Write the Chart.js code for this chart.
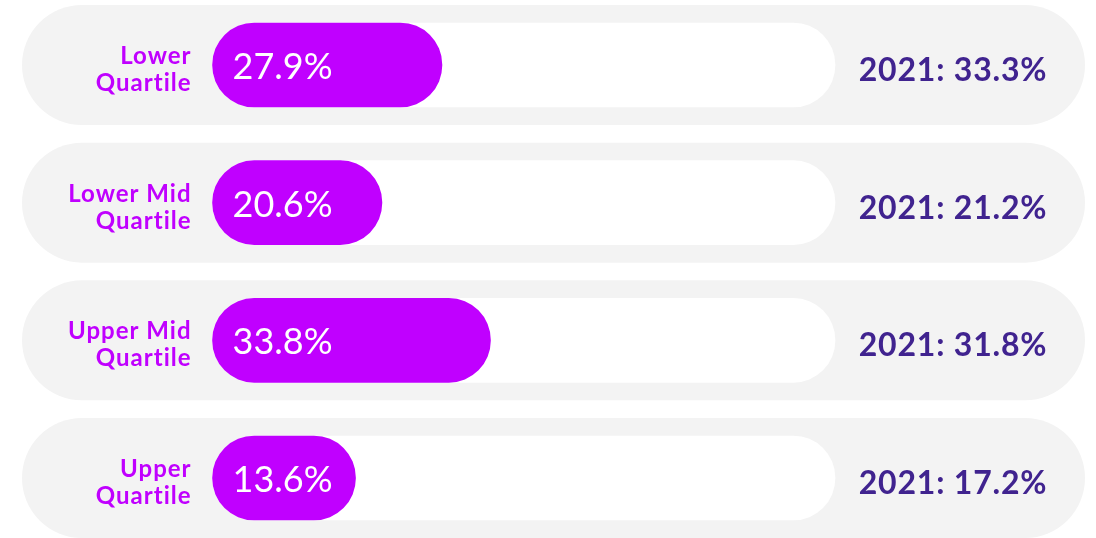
<!DOCTYPE html>
<html>
<head>
<meta charset="utf-8">
<script src="https://cdn.jsdelivr.net/npm/chart.js@4.4.1/dist/chart.umd.min.js"></script>
<style>
    html, body { margin: 0; padding: 0; background: #ffffff; }
    #wrap { width: 1096px; height: 538px; }
</style>
</head>
<body>
<div id="wrap"><canvas id="quartileChart"></canvas></div>
<script>
// Pay quartile data
const quartiles = [['Lower', 'Quartile'], ['Lower Mid', 'Quartile'], ['Upper Mid', 'Quartile'], ['Upper', 'Quartile']];
const values2022 = [27.9, 20.6, 33.8, 13.6];
const values2021 = [33.3, 21.2, 31.8, 17.2];
const trackMax = [75.7, 75.7, 75.7, 75.7];

const PURPLE = '#c000ff';
const DARK = '#40238f';
const FONT = 'Lato, "Open Sans", sans-serif';

// Grey pills behind each row, plus all the text
const pillPlugin = {
    id: 'pills',
    beforeDatasetsDraw(chart) {
        const { ctx, chartArea, scales: { y } } = chart;
        ctx.save();
        ctx.fillStyle = '#f3f3f3';
        quartiles.forEach((q, i) => {
            const cy = y.getPixelForValue(i);
            ctx.beginPath();
            ctx.roundRect(chartArea.left, cy - 60, chartArea.right - chartArea.left, 120, 60);
            ctx.fill();
        });
        ctx.restore();
    },
    afterDatasetsDraw(chart) {
        const { ctx, chartArea, scales: { x, y } } = chart;
        const x0 = x.getPixelForValue(0);
        ctx.save();
        quartiles.forEach((q, i) => {
            const cy = y.getPixelForValue(i);
            // left label
            ctx.fillStyle = PURPLE;
            ctx.font = 'bold 24px ' + FONT;
            ctx.letterSpacing = '1px';
            ctx.textAlign = 'right';
            ctx.textBaseline = 'alphabetic';
            ctx.fillText(q[0], x0 - 21, cy - 1);
            ctx.fillText(q[1], x0 - 21, cy + 26);
            // value inside bar
            ctx.fillStyle = '#ffffff';
            ctx.font = '36px ' + FONT;
            ctx.letterSpacing = '0px';
            ctx.textAlign = 'left';
            ctx.fillText(values2022[i].toFixed(1) + '%', x0 + 20, cy + 14);
            // 2021 comparison
            ctx.fillStyle = DARK;
            ctx.font = 'bold 32px ' + FONT;
            ctx.letterSpacing = '0.8px';
            ctx.textAlign = 'center';
            ctx.fillText('2021: ' + values2021[i].toFixed(1) + '%', chartArea.right - 132, cy + 16);
        });
        ctx.restore();
    }
};

const ctx = document.getElementById('quartileChart').getContext('2d');
new Chart(ctx, {
    type: 'bar',
    data: {
        labels: quartiles,
        datasets: [
            {
                label: '2022',
                data: values2022,
                backgroundColor: PURPLE,
                barThickness: 84,
                borderRadius: 42,
                borderSkipped: false,
                minBarLength: 143,
                grouped: false,
                clip: false
            },
            {
                label: 'track',
                data: trackMax,
                backgroundColor: '#ffffff',
                barThickness: 84,
                borderRadius: 42,
                borderSkipped: false,
                grouped: false,
                clip: false
            }
        ]
    },
    options: {
        indexAxis: 'y',
        responsive: true,
        maintainAspectRatio: false,
        animation: false,
        layout: { padding: { left: 22, right: 11, top: 65, bottom: 60 } },
        scales: {
            x: { display: false, min: -23.17, max: 106.1 },
            y: { display: false, offset: false }
        },
        plugins: {
            legend: { display: false },
            tooltip: { enabled: false }
        }
    },
    plugins: [pillPlugin]
});
</script>
</body>
</html>
